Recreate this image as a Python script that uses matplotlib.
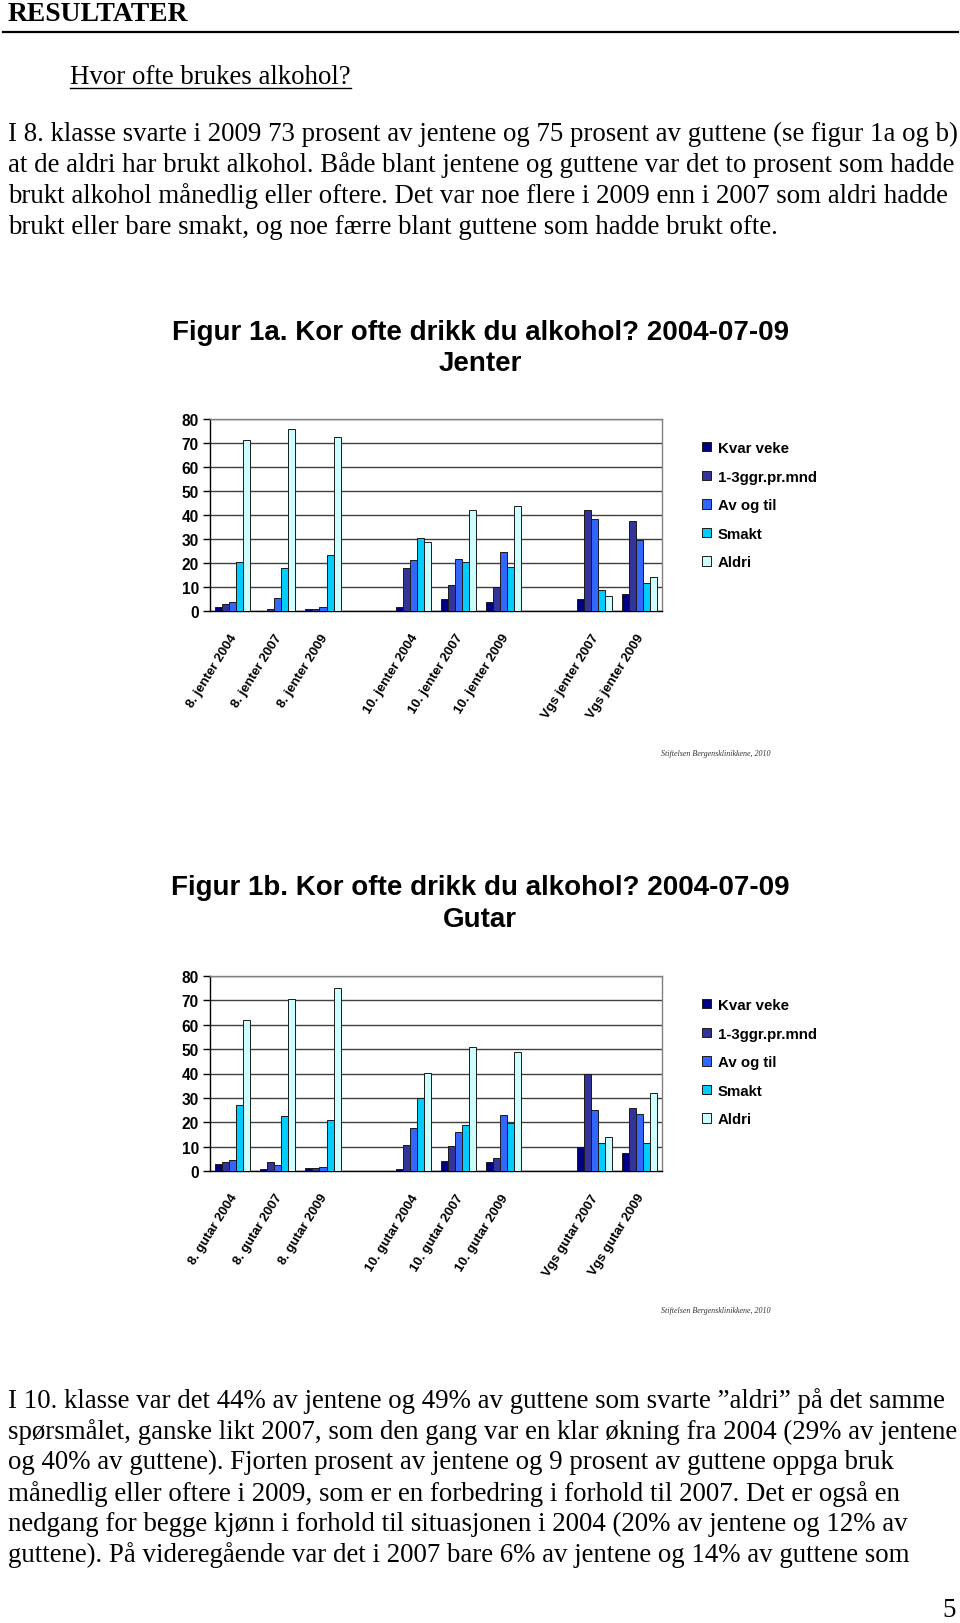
import numpy as np
import matplotlib
matplotlib.use("Agg")
import matplotlib.pyplot as plt
import matplotlib.transforms as mtransforms
from matplotlib.lines import Line2D

nan = np.nan

# ---------------- data ----------------
series = ["Kvar veke", "1-3ggr.pr.mnd", "Av og til", "Smakt", "Aldri"]
colors = ["#000080", "#333399", "#3366FF", "#00CCFF", "#CCFFFF"]

jenter_labels = ["8. jenter 2004", "8. jenter 2007", "8. jenter 2009", "",
                 "10. jenter 2004", "10. jenter 2007", "10. jenter 2009", "",
                 "Vgs jenter 2007", "Vgs jenter 2009"]
gutar_labels = ["8. gutar 2004", "8. gutar 2007", "8. gutar 2009", "",
                "10. gutar 2004", "10. gutar 2007", "10. gutar 2009", "",
                "Vgs gutar 2007", "Vgs gutar 2009"]

jenter_kvar = [1.8, 0.0, 1.0, nan, 1.7, 4.9, 3.7, nan, 4.9, 7.0]
jenter_13 = [2.8, 1.0, 1.0, nan, 17.8, 10.7, 9.9, nan, 42.1, 37.4]
jenter_av = [3.6, 5.3, 1.7, nan, 21.4, 21.7, 24.6, nan, 38.2, 29.5]
jenter_smakt = [20.6, 18.0, 23.5, nan, 30.5, 20.3, 18.3, nan, 8.6, 11.8]
jenter_aldri = [71.3, 75.8, 72.7, nan, 28.8, 42.1, 43.7, nan, 6.1, 14.0]

gutar_kvar = [2.7, 0.7, 1.1, nan, 0.8, 4.0, 3.7, nan, 9.8, 7.4]
gutar_13 = [3.6, 3.6, 1.1, nan, 10.7, 10.3, 5.2, nan, 39.7, 26.0]
gutar_av = [4.4, 2.3, 1.8, nan, 17.8, 15.9, 22.8, nan, 24.9, 23.3]
gutar_smakt = [27.2, 22.6, 21.1, nan, 30.1, 19.0, 19.8, nan, 11.5, 11.5]
gutar_aldri = [61.8, 70.5, 75.0, nan, 40.1, 50.9, 48.9, nan, 14.1, 31.9]

yticks = [0, 10, 20, 30, 40, 50, 60, 70, 80]

para_top = [
    "I 8. klasse svarte i 2009 73 prosent av jentene og 75 prosent av guttene (se figur 1a og b)",
    "at de aldri har brukt alkohol. Både blant jentene og guttene var det to prosent som hadde",
    "brukt alkohol månedlig eller oftere. Det var noe flere i 2009 enn i 2007 som aldri hadde",
    "brukt eller bare smakt, og noe færre blant guttene som hadde brukt ofte.",
]
para_bottom = [
    "I 10. klasse var det 44% av jentene og 49% av guttene som svarte ”aldri” på det samme",
    "spørsmålet, ganske likt 2007, som den gang var en klar økning fra 2004 (29% av jentene",
    "og 40% av guttene). Fjorten prosent av jentene og 9 prosent av guttene oppga bruk",
    "månedlig eller oftere i 2009, som er en forbedring i forhold til 2007. Det er også en",
    "nedgang for begge kjønn i forhold til situasjonen i 2004 (20% av jentene og 12% av",
    "guttene). På videregående var det i 2007 bare 6% av jentene og 14% av guttene som",
]

# ---------------- figure ----------------
W, H = 960, 1624
fig = plt.figure(figsize=(W / 100, H / 100), dpi=100)
fig.patch.set_facecolor("white")
renderer = fig.canvas.get_renderer()

SERIF = "Liberation Serif"
SANS = "Liberation Sans"


def fy(y):
    return 1 - y / H


def fit_text(x, y, s, target_w, fs0=12, **kw):
    t = fig.text(x / W, fy(y), s, fontsize=fs0, **kw)
    w = t.get_window_extent(renderer).width
    t.set_fontsize(fs0 * target_w / w)
    return t


# header
fit_text(8, 2, "RESULTATER", 180, family=SERIF, weight="bold", va="top", ha="left")
fig.add_artist(Line2D([3 / W, 958 / W], [fy(33), fy(33)], color="black", lw=1.6,
                      transform=fig.transFigure))

t0 = fit_text(8, 134, para_top[0], 950, family=SERIF, va="center", ha="left")
pfs = t0.get_fontsize()
for i, line in enumerate(para_top[1:], start=1):
    fig.text(8 / W, fy(134 + 31 * i), line, fontsize=pfs, family=SERIF, va="center", ha="left")

th = fig.text(70 / W, fy(77), "Hvor ofte brukes alkohol?", fontsize=pfs, family=SERIF,
              va="center", ha="left")
bb = th.get_window_extent(renderer)
fig.add_artist(Line2D([70 / W, bb.x1 / W], [fy(89), fy(89)], color="black", lw=1.0,
                      transform=fig.transFigure))

for i, line in enumerate(para_bottom):
    fig.text(8 / W, fy(1401 + 30.9 * i), line, fontsize=pfs, family=SERIF, va="center", ha="left")

fig.text(949 / W, fy(1611), "5", fontsize=pfs, family=SERIF, va="center", ha="center")


def draw_chart(top, bottom, labels, data, title, subtitle, title_y, sub_y, leg_top, src_y):
    ax = fig.add_axes([210 / W, fy(bottom), 452 / W, (bottom - top) / H])
    x = np.arange(len(labels))
    bw = 0.155
    for i, (name, vals, c) in enumerate(zip(series, data, colors)):
        v = np.array(vals, dtype=float)
        m = ~np.isnan(v)
        ax.bar(x[m] + (i - 2) * bw, v[m], width=bw, color=c, edgecolor="#1a1a1a",
               linewidth=0.7, label=name, zorder=3)
    ax.set_xlim(-0.5, len(labels) - 0.5)
    ax.set_ylim(0, 80)
    ax.set_yticks(yticks)
    ax.yaxis.grid(True, color="#404040", lw=1.0)
    ax.set_axisbelow(True)
    for side in ["top", "right"]:
        ax.spines[side].set_color("#808080")
        ax.spines[side].set_linewidth(1.0)
    for side in ["left", "bottom"]:
        ax.spines[side].set_color("black")
        ax.spines[side].set_linewidth(1.0)
    ax.tick_params(axis="y", direction="out", length=5, width=1, pad=3, labelsize=11.2)
    for lab in ax.get_yticklabels():
        lab.set_fontweight("bold")
        lab.set_family(SANS)
    ax.set_xticks(x)
    ax.set_xticklabels(labels, rotation=58, ha="right", va="center", rotation_mode="anchor",
                       fontsize=9.5, fontweight="bold", family=SANS)
    ax.tick_params(axis="x", length=0, pad=17)
    off = mtransforms.ScaledTranslation(0.02, 0, fig.dpi_scale_trans)
    for lab in ax.get_xticklabels():
        lab.set_transform(lab.get_transform() + off)

    ax.legend(loc="upper left", bbox_to_anchor=(702 / W, fy(leg_top)),
              bbox_transform=fig.transFigure, frameon=False, borderpad=0,
              borderaxespad=0, handlelength=0.6, handleheight=0.6, handletextpad=0.45,
              labelspacing=0.97, prop={"family": SANS, "weight": "bold", "size": 10.8})

    tt = fit_text(480, title_y, title, 613, family=SANS, weight="bold", ha="center", va="center")
    fig.text(480 / W, fy(sub_y), subtitle, fontsize=tt.get_fontsize(), family=SANS,
             weight="bold", ha="center", va="center")
    fit_text(661, src_y, "Stiftelsen Bergensklinikkene, 2010", 109, family=SERIF,
             style="italic", ha="left", va="center", color="#333333")
    return ax


draw_chart(420, 612, jenter_labels,
           [jenter_kvar, jenter_13, jenter_av, jenter_smakt, jenter_aldri],
           "Figur 1a. Kor ofte drikk du alkohol? 2004-07-09", "Jenter",
           332.5, 364, 442, 754)
draw_chart(977, 1172, gutar_labels,
           [gutar_kvar, gutar_13, gutar_av, gutar_smakt, gutar_aldri],
           "Figur 1b. Kor ofte drikk du alkohol? 2004-07-09", "Gutar",
           888, 920, 999, 1311)

fig.savefig("out.png", dpi=100, facecolor="white")
